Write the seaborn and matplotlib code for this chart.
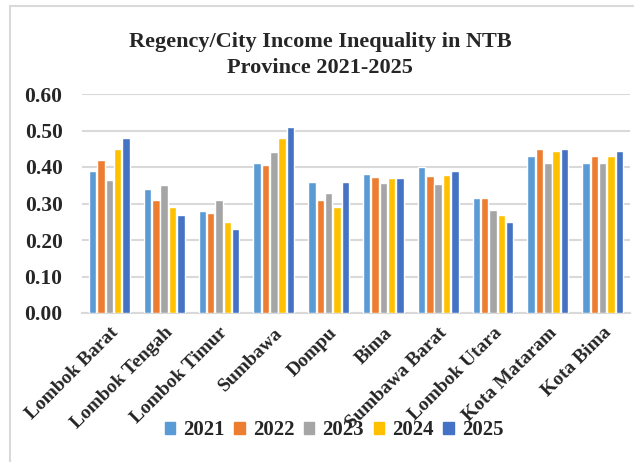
import pandas as pd
import matplotlib.pyplot as plt
import matplotlib.patches as mpatches
import seaborn as sns

# Gini ratio per regency/city
regions = ['Lombok Barat', 'Lombok Tengah', 'Lombok Timur', 'Sumbawa', 'Dompu',
           'Bima', 'Sumbawa Barat', 'Lombok Utara', 'Kota Mataram', 'Kota Bima']
years = ['2021', '2022', '2023', '2024', '2025']
gini_2021 = [0.39, 0.34, 0.28, 0.41, 0.36, 0.38, 0.40, 0.315, 0.43, 0.41]
gini_2022 = [0.42, 0.31, 0.275, 0.405, 0.31, 0.372, 0.375, 0.315, 0.45, 0.43]
gini_2023 = [0.365, 0.35, 0.31, 0.44, 0.33, 0.355, 0.353, 0.282, 0.41, 0.41]
gini_2024 = [0.45, 0.29, 0.25, 0.48, 0.29, 0.37, 0.378, 0.268, 0.445, 0.43]
gini_2025 = [0.48, 0.268, 0.23, 0.51, 0.36, 0.37, 0.388, 0.25, 0.45, 0.445]
colors = ['#5B9BD5', '#ED7D31', '#A5A5A5', '#FFC000', '#4472C4']

# Long format for seaborn
rows = []
for year, vals in zip(years, [gini_2021, gini_2022, gini_2023, gini_2024, gini_2025]):
    for region, v in zip(regions, vals):
        rows.append({'region': region, 'year': year, 'gini': v})
df = pd.DataFrame(rows)

sns.set_style('white')
plt.rcParams['font.family'] = ['Liberation Serif', 'DejaVu Serif']

fig = plt.figure(figsize=(6.34, 4.62), dpi=100)
ax = fig.add_axes([82 / 634, 1 - 313 / 462, 548 / 634, 219 / 462])

sns.barplot(data=df, x='region', y='gini', hue='year', order=regions,
            hue_order=years, palette=colors, width=0.76, gap=0.1,
            saturation=1, ax=ax, legend=False, zorder=3)

ax.set_ylim(0, 0.6)
ax.set_yticks([0, 0.1, 0.2, 0.3, 0.4, 0.5, 0.6])
ax.set_yticklabels([f'{t:.2f}' for t in ax.get_yticks()], fontsize=15.5, fontweight='bold')
ax.set_xlim(-0.5, len(regions) - 0.5)
ax.set_xticks(range(len(regions)))
ax.set_xticklabels(regions, rotation=45, ha='right', rotation_mode='anchor',
                   fontsize=14, fontweight='bold')
ax.tick_params(axis='y', length=0, pad=14)
ax.tick_params(axis='x', length=0, pad=8)
ax.grid(axis='y', color='#D9D9D9', linewidth=1.5, zorder=0)
ax.set_xlabel('')
ax.set_ylabel('')
for s in ['top', 'right', 'left']:
    ax.spines[s].set_visible(False)
ax.spines['bottom'].set_color('#D9D9D9')
ax.spines['bottom'].set_linewidth(1.5)

fig.text(320 / 634, 1 - 55 / 462, 'Regency/City Income Inequality in NTB\nProvince 2021-2025',
         ha='center', va='center', fontsize=16, fontweight='bold', linespacing=1.4)

handles = [mpatches.Patch(color=c, label=y) for c, y in zip(colors, years)]
fig.legend(handles=handles, loc='center', bbox_to_anchor=(334 / 634, 1 - 430 / 462),
           ncol=5, frameon=False, handlelength=0.5, handleheight=0.5, handletextpad=0.4,
           columnspacing=0.45, prop={'size': 15, 'weight': 'bold'})

# Chart area border
fig.patches.append(mpatches.Rectangle((10 / 634, -0.05), 1.1, 1 - 6 / 462 + 0.05,
                                      transform=fig.transFigure, fill=False,
                                      edgecolor='#D9D9D9', linewidth=1.5))

fig.savefig('out.png', dpi=100)
